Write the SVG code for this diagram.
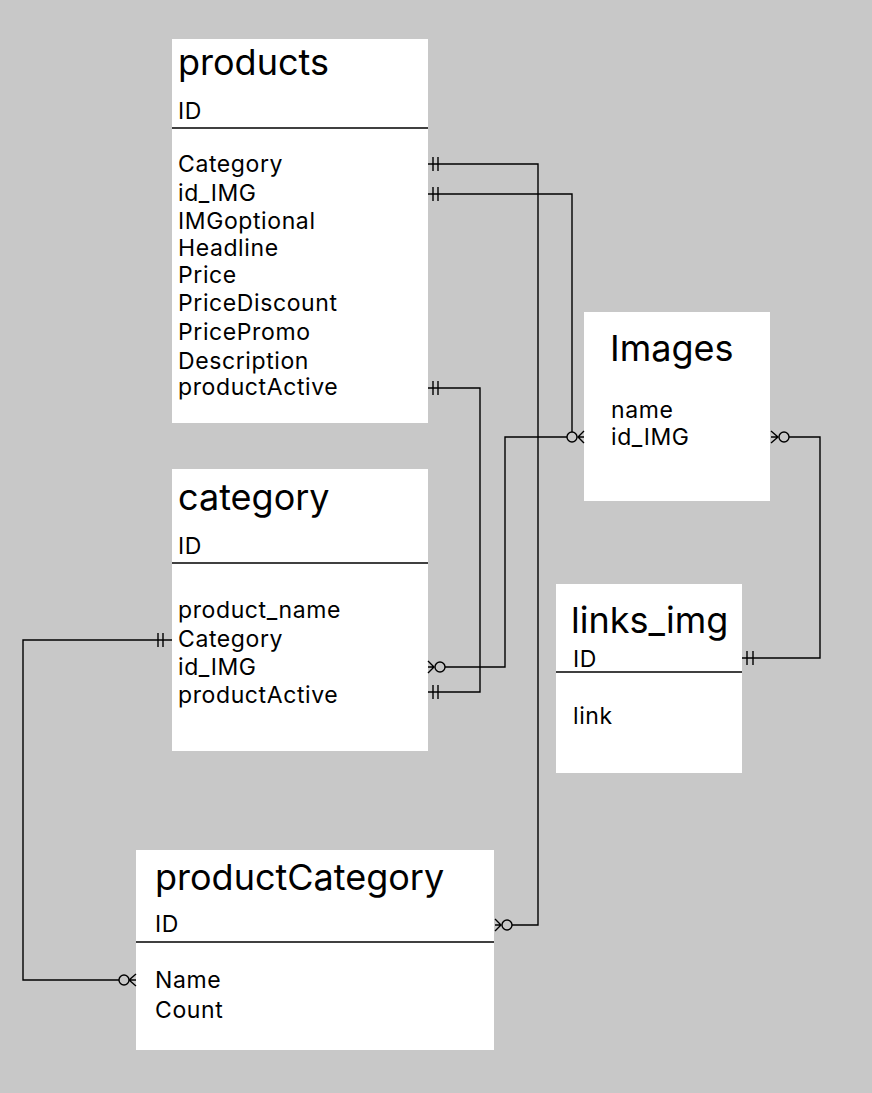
<svg xmlns="http://www.w3.org/2000/svg" width="872" height="1093" viewBox="0 0 872 1093">
<style>
.box{fill:#ffffff;stroke:none}
.div{stroke:#000;stroke-width:1.3;fill:none}
.t{font-family:Inter,"Liberation Sans",sans-serif;font-size:36px;fill:#000}
.f{font-family:Inter,"Liberation Sans",sans-serif;font-size:23px;letter-spacing:0.6px;fill:#000}
.c{stroke:#000;stroke-width:1.4;fill:none}
.o{stroke:#000;stroke-width:1.4;fill:#c8c8c8}
</style>
<rect width="872" height="1093" fill="#c8c8c8"/>
<g id="products">
<rect class="box" x="172" y="39" width="256" height="384"/>
<text class="t" x="178" y="75">products</text>
<text class="f" x="178" y="119">ID</text>
<line class="div" x1="172" y1="128" x2="428" y2="128"/>
<text class="f" x="178" y="172">Category</text>
<text class="f" x="178" y="201">id_IMG</text>
<text class="f" x="178" y="229">IMGoptional</text>
<text class="f" x="178" y="256">Headline</text>
<text class="f" x="178" y="283">Price</text>
<text class="f" x="178" y="311">PriceDiscount</text>
<text class="f" x="178" y="340">PricePromo</text>
<text class="f" x="178" y="369">Description</text>
<text class="f" x="178" y="395">productActive</text>
</g>
<g id="category">
<rect class="box" x="172" y="469" width="256" height="282"/>
<text class="t" x="178" y="510">category</text>
<text class="f" x="178" y="554">ID</text>
<line class="div" x1="172" y1="563" x2="428" y2="563"/>
<text class="f" x="178" y="618">product_name</text>
<text class="f" x="178" y="647">Category</text>
<text class="f" x="178" y="675">id_IMG</text>
<text class="f" x="178" y="703">productActive</text>
</g>
<g id="images">
<rect class="box" x="584" y="312" width="186" height="189"/>
<text class="t" x="610" y="361">Images</text>
<text class="f" x="611" y="418">name</text>
<text class="f" x="611" y="445">id_IMG</text>
</g>
<g id="links_img">
<rect class="box" x="556" y="584" width="186" height="189"/>
<text class="t" x="571" y="633">links_img</text>
<text class="f" x="573" y="667">ID</text>
<line class="div" x1="556" y1="672" x2="742" y2="672"/>
<text class="f" x="573" y="724">link</text>
</g>
<g id="productCategory">
<rect class="box" x="136" y="850" width="358" height="200"/>
<text class="t" x="155" y="890">productCategory</text>
<text class="f" x="155" y="932">ID</text>
<line class="div" x1="136" y1="942" x2="494" y2="942"/>
<text class="f" x="155" y="988">Name</text>
<text class="f" x="155" y="1018">Count</text>
</g>
<g id="connectors">
<path class="c" d="M428 164 H538 V925 H512"/>
<path class="c" d="M433 157 V171 M438 157 V171"/>
<path class="c" d="M495 919 L501 925 L495 931 M495 925 H501"/>
<circle class="o" cx="507" cy="925" r="5"/>
<path class="c" d="M428 194 H572 V432"/>
<path class="c" d="M433 187 V201 M438 187 V201"/>
<path class="c" d="M428 388 H480 V692 H428"/>
<path class="c" d="M433 381 V395 M438 381 V395"/>
<path class="c" d="M433 685 V699 M438 685 V699"/>
<path class="c" d="M445 667 H505 V437 H567"/>
<path class="c" d="M428 661 L434 667 L428 673 M428 667 H434"/>
<circle class="o" cx="440" cy="667" r="5"/>
<path class="c" d="M584 431 L578 437 L584 443 M584 437 H578"/>
<circle class="o" cx="572" cy="437" r="5"/>
<path class="c" d="M789 437 H820 V658 H742"/>
<path class="c" d="M771 431 L778 437 L771 443 M771 437 H778"/>
<circle class="o" cx="784" cy="437" r="5"/>
<path class="c" d="M747 651 V665 M753 651 V665"/>
<path class="c" d="M172 640 H23 V980 H119"/>
<path class="c" d="M158 633 V647 M163 633 V647"/>
<path class="c" d="M136 974 L129 980 L136 986 M136 980 H129"/>
<circle class="o" cx="124" cy="980" r="5"/>
</g>
</svg>
